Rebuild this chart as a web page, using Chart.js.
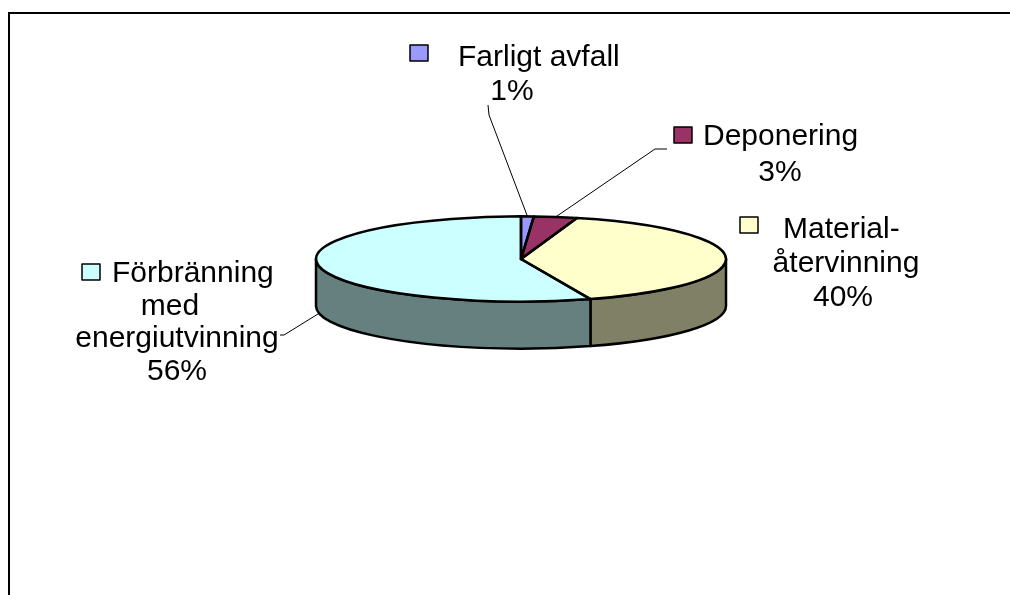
<!DOCTYPE html>
<html lang="sv">
<head>
 <meta charset="UTF-8">
 <title>Avfallsbehandling</title>
 <script src="https://cdn.jsdelivr.net/npm/chart.js"></script>
 <style>
   html, body { margin: 0; padding: 0; background: #fff; }
   #wrap { width: 1010px; height: 595px; }
 </style>
</head>
<body>
 <div id="wrap"><canvas id="pie" width="1010" height="595"></canvas></div>

 <script>
 // data (share of waste, %)
 const categories = [
   ['Farligt avfall'],
   ['Deponering'],
   ['Material-', 'återvinning'],
   ['Förbränning', 'med', 'energiutvinning']
 ];
 const shares = [1, 3.4, 40.1, 55.5];

 // colours: top face and darker side wall
 const topColors = ['#9999FF', '#993366', '#FFFFCC', '#CCFFFF'];
 const sideColors = ['#4D4D80', '#4D1A33', '#808066', '#668080'];

 const radius = 205;     // horizontal radius of the pie
 const tilt = 0.208;     // vertical squash
 const depth = 47;       // height of the side wall
 const font = '30px "Liberation Sans", Arial, sans-serif';

 // text layout: key box, line positions [x, baseline, align], leader line start
 const labelLayout = [
   { key: [410, 45], lines: [[458, 66, 'left'], [512, 100, 'center']], leader: [[488, 105], [489, 115]] },
   { key: [674, 127], lines: [[703, 145, 'left'], [780, 181, 'center']], leader: [[667, 149], [655, 149]] },
   { key: [740, 217], lines: [[783, 238, 'left'], [846, 272, 'center'], [843, 306, 'center']], leader: null },
   { key: [82, 264], lines: [[112, 282, 'left'], [170, 315, 'center'], [177, 347, 'center'], [177, 380, 'center']], leader: [[280, 335], [284, 335]] }
 ];

 function ellipsePath(ctx, cx, cy, a, b) {
   ctx.ellipse(cx, cy, radius, radius * tilt, 0, a, b);
 }

 const pie3d = {
   id: 'pie3d',
   beforeDraw(chart) {
     const ctx = chart.ctx;
     ctx.save();
     ctx.strokeStyle = '#000';
     ctx.lineWidth = 2;
     ctx.beginPath();
     ctx.moveTo(9, 600);
     ctx.lineTo(9, 13);
     ctx.lineTo(1012, 13);
     ctx.stroke();
     ctx.restore();
   },
   beforeDatasetsDraw(chart) {
     const ctx = chart.ctx;
     const arcs = chart.getDatasetMeta(0).data;
     ctx.save();
     ctx.strokeStyle = '#000';
     ctx.lineWidth = 2.5;
     ctx.lineJoin = 'round';
     arcs.forEach((arc, i) => {
       const a = Math.max(arc.startAngle, 0);
       const b = Math.min(arc.endAngle, Math.PI);
       if (b <= a) return;
       ctx.beginPath();
       ctx.ellipse(arc.x, arc.y, radius, radius * tilt, 0, a, b);
       ctx.ellipse(arc.x, arc.y + depth, radius, radius * tilt, 0, b, a, true);
       ctx.closePath();
       ctx.fillStyle = sideColors[i];
       ctx.fill();
       ctx.stroke();
     });
     ctx.restore();
     // squash the library's slices into the top face
     const c = arcs[0];
     ctx.save();
     ctx.translate(c.x, c.y);
     ctx.scale(1, tilt);
     ctx.translate(-c.x, -c.y);
   },
   afterDatasetsDraw(chart) {
     const ctx = chart.ctx;
     ctx.restore();
     const arcs = chart.getDatasetMeta(0).data;
     const total = shares.reduce((s, v) => s + v, 0);
     ctx.save();
     ctx.strokeStyle = '#000';
     ctx.lineWidth = 2.5;
     ctx.lineJoin = 'round';
     arcs.forEach(arc => {
       ctx.beginPath();
       ctx.moveTo(arc.x, arc.y);
       ellipsePath(ctx, arc.x, arc.y, arc.startAngle, arc.endAngle);
       ctx.closePath();
       ctx.stroke();
     });

     ctx.font = font;
     ctx.fillStyle = '#000';
     ctx.textBaseline = 'alphabetic';
     arcs.forEach((arc, i) => {
       const lay = labelLayout[i];
       const text = categories[i].concat([Math.round(shares[i] / total * 100) + '%']);
       text.forEach((t, j) => {
         const [x, y, align] = lay.lines[j];
         ctx.textAlign = align;
         ctx.fillText(t, x, y);
       });
       ctx.lineWidth = 1.5;
       ctx.fillStyle = topColors[i];
       ctx.fillRect(lay.key[0], lay.key[1], 18, 16);
       ctx.strokeRect(lay.key[0], lay.key[1], 18, 16);
       ctx.fillStyle = '#000';
       if (lay.leader) {
         const mid = (arc.startAngle + arc.endAngle) / 2;
         let ex = arc.x + radius * Math.cos(mid);
         let ey = arc.y + radius * tilt * Math.sin(mid);
         if (mid > 0 && mid < Math.PI) ey += depth;
         ctx.lineWidth = 1;
         ctx.beginPath();
         ctx.moveTo(lay.leader[0][0], lay.leader[0][1]);
         ctx.lineTo(lay.leader[1][0], lay.leader[1][1]);
         ctx.lineTo(ex, ey);
         ctx.stroke();
       }
     });
     ctx.restore();
   }
 };

 new Chart(document.getElementById('pie'), {
   type: 'pie',
   data: {
     labels: categories,
     datasets: [{
       data: shares,
       backgroundColor: topColors,
       borderWidth: 0,
       clip: false
     }]
   },
   options: {
     responsive: false,
     animation: false,
     events: [],
     radius: radius,
     layout: { padding: { left: 32, right: 0, top: 0, bottom: 77 } },
     plugins: {
       legend: { display: false },
       tooltip: { enabled: false }
     }
   },
   plugins: [pie3d]
 });
 </script>
</body>
</html>
